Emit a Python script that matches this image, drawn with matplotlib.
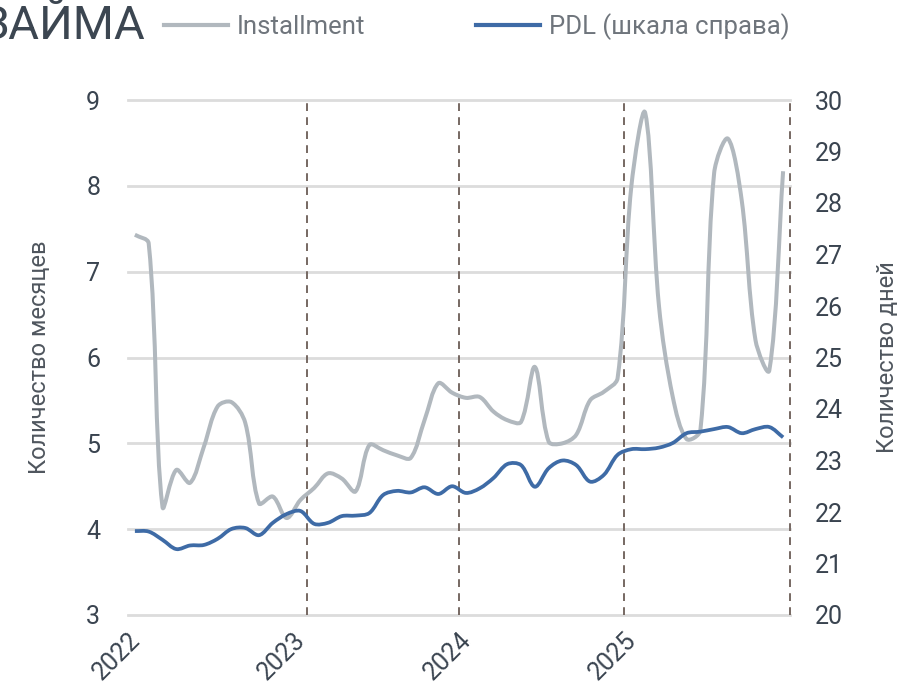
import numpy as np
import matplotlib.pyplot as plt
from matplotlib.path import Path
from matplotlib.patches import PathPatch
from matplotlib.lines import Line2D

plt.rcParams['font.family'] = ['Roboto', 'DejaVu Sans']
plt.rcParams['font.weight'] = 'normal'

# monthly values, Jan 2022 .. Dec 2025 (category axis, 48 points)
installment = [7.43, 7.33, 4.26, 4.69, 4.54, 4.96, 5.43, 5.48, 5.24, 4.30,
               4.38, 4.13, 4.34, 4.48, 4.65, 4.59, 4.44, 4.98, 4.92, 4.86,
               4.83, 5.27, 5.70, 5.59, 5.53, 5.54, 5.37, 5.27, 5.25, 5.89,
               5.02, 5.00, 5.10, 5.50, 5.60, 5.76, 8.00, 8.85, 6.60, 5.54,
               5.05, 5.15, 8.15, 8.55, 7.83, 6.20, 5.85, 8.17]
pdl = [21.63, 21.62, 21.46, 21.28, 21.35, 21.36, 21.48, 21.67, 21.69, 21.55,
       21.79, 21.96, 22.02, 21.77, 21.79, 21.92, 21.93, 21.98, 22.33, 22.41,
       22.38, 22.48, 22.35, 22.50, 22.37, 22.46, 22.66, 22.93, 22.91, 22.49,
       22.85, 23.00, 22.91, 22.59, 22.72, 23.11, 23.22, 23.22, 23.25, 23.34,
       23.53, 23.56, 23.61, 23.65, 23.53, 23.61, 23.65, 23.45]
year_pos = [0, 12, 24, 36]
year_labels = ['2022', '2023', '2024', '2025']
dash_pos = [13, 24, 36, 48]

GRAY = '#b1b8be'
BLUE = '#3e6ba6'
TXT = '#3a4450'


def smooth_path(a, x, y):
    # excel-like smoothed line: bezier segments, handles weighted by segment length
    p = a.transData.transform(np.column_stack([x, y]))
    n = len(p)
    out_h = np.zeros_like(p)
    in_h = np.zeros_like(p)
    for i in range(n):
        prv = p[i - 1] if i > 0 else p[i]
        nxt = p[i + 1] if i < n - 1 else p[i]
        d = nxt - prv
        l_in = np.hypot(*(p[i] - prv))
        l_out = np.hypot(*(nxt - p[i]))
        tot = l_in + l_out
        if tot == 0:
            continue
        out_h[i] = d * l_out / tot / 3
        in_h[i] = d * l_in / tot / 3
    verts = [p[0]]
    codes = [Path.MOVETO]
    for i in range(n - 1):
        verts += [p[i] + out_h[i], p[i + 1] - in_h[i + 1], p[i + 1]]
        codes += [Path.CURVE4] * 3
    verts = a.transData.inverted().transform(np.array(verts))
    return Path(verts, codes)


x = np.arange(len(installment)) + 0.5

fig = plt.figure(figsize=(9.02, 6.89), dpi=100)
ax = fig.add_axes([128 / 902, 1 - 615 / 689, 662 / 902, 515 / 689])
ax2 = ax.twinx()

ax.set_xlim(0, 48)
ax.set_ylim(3, 9)
ax2.set_ylim(20, 30)
ax.set_yticks(range(3, 10))
ax2.set_yticks(range(20, 31))

ax.add_patch(PathPatch(smooth_path(ax, x, installment), fill=False, edgecolor=GRAY,
                       lw=2.9, capstyle='butt', joinstyle='round', zorder=3))
ax2.add_patch(PathPatch(smooth_path(ax2, x, pdl), fill=False, edgecolor=BLUE,
                        lw=2.7, capstyle='butt', joinstyle='round', zorder=3))

for v in range(3, 10):
    ax.axhline(v, color='#dcdcdc', lw=2, zorder=1, clip_on=False)
for p in dash_pos:
    ax.axvline(p, color='#766862', lw=1.4, ls=(0, (4, 3.2)), zorder=2, clip_on=False)

for a in (ax, ax2):
    for s in a.spines.values():
        s.set_visible(False)
    a.tick_params(length=0)

ax.tick_params(axis='y', labelsize=18, labelcolor=TXT, pad=20)
ax2.tick_params(axis='y', labelsize=18, labelcolor=TXT, pad=18)
ax.set_xticks(year_pos)
ax.set_xticklabels(year_labels, rotation=45, ha='right', va='top',
                   rotation_mode='anchor', fontsize=18, color=TXT)
ax.tick_params(axis='x', pad=9)

ax.set_ylabel('Количество месяцев', fontsize=17, color='#4f565e', labelpad=25)
ax2.set_ylabel('Количество дней', fontsize=17, color='#4f565e', labelpad=24)

handles = [Line2D([], [], color=GRAY, lw=3),
           Line2D([], [], color=BLUE, lw=3)]
fig.legend(handles, ['Installment', 'PDL (шкала справа)'], ncol=2,
           loc='center', bbox_to_anchor=(477 / 902, 1 - 27 / 689),
           frameon=False, fontsize=18.5, labelcolor='#6f757c',
           handlelength=2.5, handletextpad=0.35, columnspacing=4.3)

# chart title, partly outside the top of the frame
fig.text(145 / 902, 1 - 39 / 689, 'ЗАЙМА', fontsize=34, color='#3c4651',
         va='baseline', ha='right')

fig.savefig('out.png', dpi=100)
